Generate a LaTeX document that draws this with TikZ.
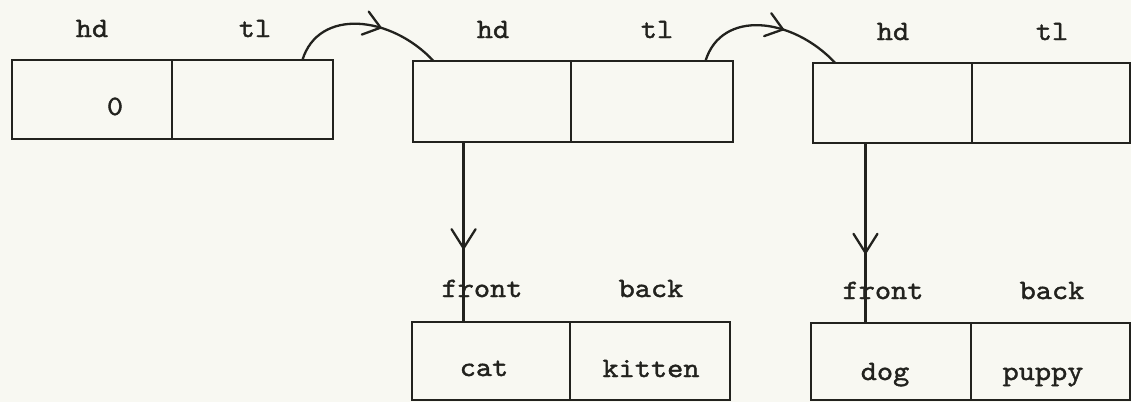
\documentclass[tikz,border=0pt]{standalone}
\usepackage{fontspec}
\setmainfont{lmmono10-regular}[Extension=.otf, FakeStretch=1.1, FakeBold=1.4]
\usetikzlibrary{calc,decorations.markings}
\definecolor{paper}{RGB}{248,248,242}
\definecolor{ink}{RGB}{34,34,30}
\begin{document}
\begin{tikzpicture}[x=1pt,y=-1pt,
  cell/.style={draw=ink, line width=2.8pt, minimum width=160pt, minimum height=80pt,
               inner sep=0pt, outer sep=0pt, anchor=north west},
  lbl/.style={anchor=base, inner sep=0pt, text=ink, font=\fontsize{28}{32}\selectfont},
  link/.style={draw=ink, line width=2.3pt},
  % open V head placed part-way along a connector
  midarrow/.style 2 args={postaction=decorate,
    decoration={markings, mark=at position #1 with
      {\draw[ink, line width=2.3pt, line cap=round, line join=miter]
         (-#2,-12pt) -- (0pt,0pt) -- (-#2,12pt);}}}
]
% paper
\fill[paper] (0,0) rectangle (1131,402);
\useasboundingbox (0,0) rectangle (1131,402);

% list cells (hd | tl)
\node[cell, minimum width=160pt, minimum height=79pt] (c1h) at (12,60) {};
\node[cell, minimum width=161pt, minimum height=79pt] (c1t) at (172,60) {};
\node[cell, minimum width=158pt, minimum height=81pt] (c2h) at (413,61) {};
\node[cell, minimum width=162pt, minimum height=81pt] (c2t) at (571,61) {};
\node[cell, minimum width=159pt, minimum height=80pt] (c3h) at (813,63) {};
\node[cell, minimum width=158pt, minimum height=80pt] (c3t) at (972,63) {};

% pair cells (front | back)
\node[cell, minimum width=158pt, minimum height=78pt] (p1f) at (412,322) {};
\node[cell, minimum width=160pt, minimum height=78pt] (p1b) at (570,322) {};
\node[cell, minimum width=160pt, minimum height=77pt] (p2f) at (811,323) {};
\node[cell, minimum width=159pt, minimum height=77pt] (p2b) at (971,323) {};

% field names
\node[lbl] (hd1) at (92,37) {hd};
\node[lbl] (tl1) at (255,37) {tl};
\node[lbl] (hd2) at (493,38) {hd};
\node[lbl] (tl2) at (657,38) {tl};
\node[lbl] (hd3) at (893,40) {hd};
\node[lbl] (tl3) at (1052,40) {tl};
\node[lbl] (fr1) at (482,297) {front};
\node[lbl] (bk1) at (651,297) {back};
\node[lbl] (fr2) at (883,299) {front};
\node[lbl] (bk2) at (1052,299) {back};

% cell contents
\node[lbl] (zero) at (115,115) {0};
\node[lbl] (cat) at (484,376) {cat};
\node[lbl] (kitten) at (651,377) {kitten};
\node[lbl] (dog) at (885,380) {dog};
\node[lbl] (puppy) at (1043,380) {puppy};

% tail links
\draw[link, midarrow={0.6}{16pt}]
  ($(c1t.north west)!0.81!(c1t.north east)$)
  .. controls +(16,-52) and +(-43,-46) ..
  ($(c2h.north west)!0.13!(c2h.north east)$);
\draw[link, midarrow={0.6}{16pt}]
  ($(c2t.north west)!0.83!(c2t.north east)$)
  .. controls +(16,-52) and +(-43,-46) ..
  ($(c3h.north west)!0.14!(c3h.north east)$);

% head links down to the pairs
\coordinate (v1) at ($(c2h.south west)!0.32!(c2h.south east)$);
\coordinate (v2) at ($(c3h.south west)!0.33!(c3h.south east)$);
\draw[link, midarrow={0.59}{19pt}] (v1) -- (v1 |- p1f.north);
\draw[link, midarrow={0.61}{19pt}] (v2) -- (v2 |- p2f.north);
\end{tikzpicture}
\end{document}
